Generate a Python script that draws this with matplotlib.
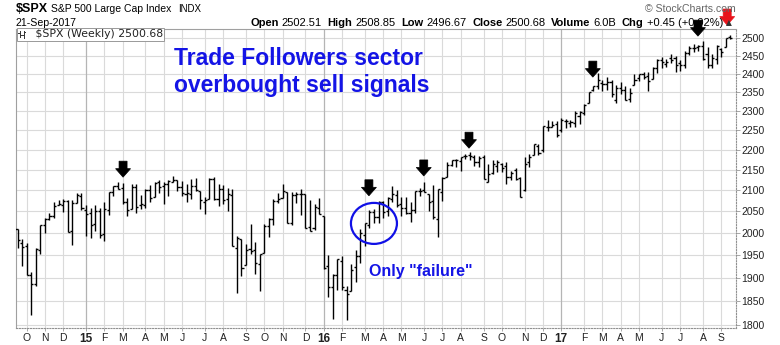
import numpy as np
import pandas as pd
import matplotlib
matplotlib.use('Agg')
import matplotlib.pyplot as plt
import matplotlib.dates as mdates
from matplotlib.patches import Polygon, Ellipse
from matplotlib.transforms import ScaledTranslation
from matplotlib.ticker import FixedLocator, FixedFormatter, NullLocator
from matplotlib.lines import Line2D

plt.rcParams['font.family'] = ['Liberation Sans', 'DejaVu Sans']

# weekly OHLC of $SPX, first bar = week of 2014-09-22
first_week = '2014-09-22'

opens_2014 = [2009.1, 1978.2, 1970.0, 1905.7, 1885.6, 1962.0, 2018.2, 2032.0, 2038.3, 2064.0,
              2065.8, 2074.8, 2005.0, 2069.5, 2087.6]
highs_2014 = [2009.1, 1985.2, 1977.8, 1912.0, 1965.3, 2018.2, 2034.3, 2046.2, 2071.5, 2075.8,
              2079.5, 2075.8, 2077.9, 2093.6, 2093.6]
lows_2014 = [1965.0, 1926.0, 1906.0, 1820.7, 1882.0, 1951.4, 2001.0, 2030.2, 2034.2, 2064.0,
             2049.6, 2002.3, 1972.6, 2069.5, 2054.0]
closes_2014 = [1982.9, 1967.9, 1906.1, 1886.8, 1964.6, 2018.1, 2031.9, 2039.8, 2063.5, 2067.6,
               2075.4, 2002.3, 2070.7, 2088.8, 2058.2]

opens_2015 = [2054.4, 2046.1, 2020.8, 2050.4, 1996.7, 2053.5, 2096.5, 2109.8, 2105.2, 2072.3,
              2055.4, 2107.0, 2064.1, 2064.9, 2102.0, 2084.1, 2119.3, 2110.2, 2115.6, 2121.3,
              2125.3, 2108.6, 2092.3, 2091.3, 2110.6, 2098.6, 2073.0, 2080.0, 2126.8, 2078.2,
              2104.5, 2080.0, 2089.7, 1965.2, 1986.7, 1927.3, 1963.1, 1960.8, 1929.2, 1954.3,
              2015.7, 2031.7, 2075.1, 2080.8, 2096.6, 2022.1, 2089.4, 2090.9, 2090.4, 2013.4,
              2010.3, 2057.8]
highs_2015 = [2064.4, 2056.9, 2064.6, 2057.6, 2072.4, 2097.0, 2110.6, 2119.6, 2117.5, 2081.4,
              2114.9, 2114.9, 2088.0, 2102.6, 2111.9, 2120.9, 2125.9, 2120.9, 2123.9, 2134.7,
              2125.3, 2121.9, 2115.0, 2126.7, 2130.0, 2098.6, 2083.0, 2129.9, 2132.8, 2114.2,
              2112.7, 2105.4, 2102.3, 1993.5, 1986.7, 1975.0, 2020.9, 1979.6, 1951.4, 2020.9,
              2034.0, 2079.7, 2094.3, 2116.5, 2096.6, 2097.1, 2095.6, 2104.3, 2090.4, 2076.7,
              2067.6, 2081.6]
lows_2015 = [1992.4, 1988.1, 2004.5, 1989.2, 1980.9, 2041.9, 2085.4, 2103.8, 2066.4, 2039.7,
             2055.4, 2045.4, 2056.0, 2056.9, 2073.3, 2084.1, 2094.0, 2067.9, 2085.7, 2119.5,
             2099.2, 2085.7, 2072.1, 2079.1, 2098.4, 2056.6, 2044.0, 2080.0, 2077.9, 2063.5,
             2067.9, 2052.1, 1970.9, 1867.0, 1903.1, 1927.3, 1953.0, 1908.8, 1871.9, 1954.3,
             1990.7, 2018.2, 2069.9, 2080.8, 2022.9, 2019.4, 2070.3, 2042.4, 2012.4, 2005.0,
             2005.9, 2043.6]
closes_2015 = [2044.8, 2019.4, 2051.8, 1995.0, 2055.5, 2097.0, 2110.3, 2104.5, 2071.3, 2053.4,
               2108.1, 2061.0, 2067.0, 2102.1, 2081.2, 2117.7, 2108.3, 2116.1, 2122.7, 2126.1,
               2107.4, 2092.8, 2094.1, 2110.0, 2101.5, 2076.8, 2076.6, 2126.6, 2079.7, 2103.8,
               2077.6, 2091.5, 1970.9, 1988.9, 1921.2, 1961.1, 1958.0, 1931.3, 1951.4, 2014.9,
               2033.1, 2075.2, 2079.4, 2099.2, 2023.0, 2089.2, 2090.1, 2091.7, 2012.4, 2005.6,
               2061.0, 2043.9]

opens_2016 = [2038.2, 1926.1, 1878.9, 1906.3, 1936.9, 1873.3, 1871.4, 1924.4, 1947.1, 1996.1,
              2019.3, 2048.6, 2037.9, 2073.2, 2050.2, 2078.8, 2089.4, 2067.2, 2057.6, 2046.5,
              2052.2, 2099.2, 2100.8, 2091.8, 2075.6, 2031.5, 2095.1, 2131.7, 2162.0, 2173.7,
              2173.1, 2183.8, 2186.1, 2181.6, 2170.2, 2181.6, 2120.9, 2143.0, 2158.5, 2164.3,
              2160.4, 2132.9, 2148.5, 2129.8, 2100.6, 2168.3, 2186.4, 2210.2, 2200.2, 2258.8,
              2259.2, 2266.2]
highs_2016 = [2038.2, 1950.3, 1908.9, 1940.2, 1947.2, 1881.6, 1930.7, 1962.1, 2009.1, 2022.4,
              2052.4, 2056.6, 2075.1, 2074.0, 2083.1, 2111.1, 2099.9, 2084.9, 2084.9, 2073.0,
              2099.3, 2105.3, 2120.6, 2091.8, 2113.3, 2103.0, 2131.7, 2169.1, 2175.6, 2177.1,
              2182.9, 2188.5, 2193.8, 2187.9, 2184.9, 2187.9, 2163.3, 2175.3, 2175.3, 2165.9,
              2169.6, 2147.0, 2154.8, 2133.3, 2182.3, 2189.9, 2213.4, 2214.1, 2259.5, 2277.5,
              2273.0, 2273.8]
lows_2016 = [1918.5, 1857.8, 1812.3, 1872.7, 1872.7, 1810.1, 1871.4, 1891.0, 1931.8, 1969.3,
             2012.1, 2022.5, 2022.6, 2033.8, 2039.7, 2073.0, 2060.2, 2039.5, 2043.1, 2025.9,
             2047.3, 2085.4, 2096.1, 2050.4, 2032.1, 1991.7, 2074.0, 2131.7, 2159.0, 2157.6,
             2147.6, 2177.1, 2175.0, 2160.4, 2157.1, 2127.8, 2119.1, 2139.1, 2145.0, 2144.9,
             2114.7, 2124.4, 2125.9, 2083.8, 2097.6, 2156.1, 2186.4, 2187.1, 2195.0, 2248.4,
             2257.1, 2233.6]
closes_2016 = [1922.0, 1880.3, 1906.9, 1940.2, 1880.1, 1864.8, 1917.8, 1948.1, 2000.0, 2022.2,
               2049.6, 2035.9, 2072.8, 2047.6, 2080.7, 2091.6, 2065.3, 2057.1, 2046.6, 2052.3,
               2099.1, 2099.1, 2096.1, 2071.2, 2037.4, 2103.0, 2129.9, 2161.7, 2175.0, 2173.6,
               2182.9, 2184.1, 2183.9, 2169.0, 2180.0, 2127.8, 2139.2, 2164.7, 2168.3, 2153.7,
               2133.0, 2141.2, 2126.4, 2085.2, 2164.5, 2181.9, 2213.4, 2192.0, 2259.5, 2258.1,
               2263.8, 2238.8]

opens_2017 = [2251.6, 2273.6, 2269.1, 2267.8, 2286.0, 2294.3, 2321.7, 2354.9, 2366.1, 2375.2,
              2371.6, 2378.2, 2329.1, 2362.3, 2357.2, 2332.6, 2370.3, 2388.5, 2399.4, 2393.0,
              2387.2, 2415.6, 2437.8, 2425.9, 2442.6, 2443.3, 2431.4, 2424.5, 2459.1, 2473.5,
              2475.0, 2477.1, 2454.0, 2425.5, 2442.0, 2470.4, 2474.5, 2502.5]
highs_2017 = [2282.1, 2279.3, 2276.1, 2300.9, 2299.0, 2319.2, 2351.3, 2367.8, 2401.0, 2382.4,
              2390.0, 2382.0, 2370.4, 2378.4, 2366.4, 2361.4, 2398.2, 2399.3, 2403.9, 2405.8,
              2418.7, 2440.2, 2446.2, 2441.0, 2453.8, 2450.4, 2439.2, 2463.5, 2477.6, 2484.0,
              2480.4, 2490.9, 2474.9, 2454.8, 2480.4, 2471.0, 2500.2, 2508.9]
lows_2017 = [2245.1, 2254.3, 2258.8, 2257.0, 2267.2, 2288.5, 2321.4, 2352.9, 2358.9, 2354.5,
             2357.2, 2336.9, 2322.3, 2344.5, 2328.9, 2323.0, 2370.3, 2380.1, 2385.5, 2353.0,
             2387.2, 2403.6, 2415.7, 2418.0, 2428.7, 2405.7, 2407.7, 2415.6, 2453.7, 2459.9,
             2462.9, 2437.8, 2417.4, 2417.4, 2428.2, 2446.6, 2474.5, 2496.7]
closes_2017 = [2277.0, 2274.6, 2271.3, 2294.7, 2297.4, 2316.1, 2351.2, 2367.3, 2383.1, 2372.6,
               2378.3, 2344.0, 2362.7, 2355.5, 2329.0, 2348.7, 2384.2, 2399.3, 2390.9, 2381.7,
               2415.8, 2439.1, 2431.8, 2433.2, 2438.3, 2423.4, 2425.2, 2459.3, 2472.5, 2472.1,
               2476.8, 2441.3, 2425.6, 2443.1, 2476.6, 2461.4, 2500.2, 2500.7]

# sell-signal arrows: (week number from first bar, price of arrow tip)
arrow_weeks = [23.1, 76.9, 88.9, 98.8, 125.9, 148.9]
arrow_prices = [2132, 2087, 2135, 2204, 2391, 2506]
red_arrow_week = 155.3
red_arrow_price = 2538
circle_week = 78.0
circle_price = 2022

y_ticks = list(range(1800, 2501, 50))
month_letters = 'JFMAMJJASOND'

opens = np.array(opens_2014 + opens_2015 + opens_2016 + opens_2017)
highs = np.array(highs_2014 + highs_2015 + highs_2016 + highs_2017)
lows = np.array(lows_2014 + lows_2015 + lows_2016 + lows_2017)
closes = np.array(closes_2014 + closes_2015 + closes_2016 + closes_2017)

dates = pd.date_range(first_week, periods=len(closes), freq='W-MON')
xs = mdates.date2num(dates)
x0 = xs[0]

W, H = 780, 345
fig = plt.figure(figsize=(W / 100, H / 100), dpi=100)
fig.patch.set_facecolor('white')

def fx(px):
    return px / W

def fy(py):
    return 1 - py / H

ax_left, ax_right, ax_top, ax_bot = 16, 736, 28.5, 328.3
ax = fig.add_axes([fx(ax_left), fy(ax_bot), (ax_right - ax_left) / W, (ax_bot - ax_top) / H])

# grid: horizontal at price ticks, vertical at first week of each month
ax.set_yscale('log')
ax.set_ylim(1793, 2528)
ax.set_xlim(x0 - 2.3, xs[-1] + 8.6)
for v in y_ticks:
    ax.axhline(v, color='#dadada', lw=0.8, zorder=0)

s = pd.Series(dates)
month_first = s.groupby([s.dt.year, s.dt.month]).first()
tick_pos, tick_lab = [], []
for d in month_first:
    if d.day > 7:
        continue  # partial month at the left edge
    xd = mdates.date2num(d)
    tick_pos.append(xd)
    if d.month == 1:
        tick_lab.append(f'{d.year % 100:02d}')
        ax.axvline(xd, color='#b5b5b5', lw=0.9, zorder=0)
    else:
        tick_lab.append(month_letters[d.month - 1])
        ax.axvline(xd, color='#dadada', lw=0.8, zorder=0)

# OHLC bars
tk = 3.2
ax.vlines(xs, lows, highs, color='black', lw=1.0, zorder=3)
ax.hlines(opens, xs - tk, xs, color='black', lw=1.0, zorder=3)
ax.hlines(closes, xs, xs + tk, color='black', lw=1.0, zorder=3)

# axes styling
ax.yaxis.tick_right()
ax.yaxis.set_major_locator(FixedLocator(y_ticks))
ax.yaxis.set_major_formatter(FixedFormatter([str(v) for v in y_ticks]))
ax.yaxis.set_minor_locator(NullLocator())
ax.tick_params(axis='y', which='major', length=3, width=0.6, color='#999999',
               labelsize=7.5, labelcolor='#222222', pad=1)
ax.xaxis.set_major_locator(FixedLocator(tick_pos))
ax.xaxis.set_major_formatter(FixedFormatter(tick_lab))
ax.tick_params(axis='x', length=2, width=0.6, color='#999999', labelsize=7.5,
               labelcolor='#222222', pad=1.5)
for lab in ax.get_xticklabels():
    if lab.get_text().isdigit():
        lab.set_fontweight('bold')
        lab.set_fontsize(8.5)
for side in ['top', 'left']:
    ax.spines[side].set_color('#a0a0a0')
    ax.spines[side].set_linewidth(0.8)
for side in ['bottom', 'right']:
    ax.spines[side].set_color('#909090')
    ax.spines[side].set_linewidth(0.8)
    ax.spines[side].set_linestyle((0, (1, 1.5)))

# legend box inside the plot
ax.text(0.0025, 0.997, '     $SPX (Weekly) 2500.68', transform=ax.transAxes, va='top', ha='left',
        fontsize=7.8, family='DejaVu Sans', color='#222222', zorder=5,
        bbox=dict(boxstyle='square,pad=0.12', fc='white', ec='#999999', lw=0.7))
for bx, (b_top, b_bot, b_o, b_c) in zip([19.5, 23.5], [(31, 37, 33, 35), (30.5, 37.5, 35, 32)]):
    fig.add_artist(Line2D([fx(bx), fx(bx)], [fy(b_top), fy(b_bot)], color='#333333', lw=0.7))
    fig.add_artist(Line2D([fx(bx - 1.5), fx(bx)], [fy(b_o), fy(b_o)], color='#333333', lw=0.7))
    fig.add_artist(Line2D([fx(bx), fx(bx + 1.5)], [fy(b_c), fy(b_c)], color='#333333', lw=0.7))

# arrows (drawn in pixel units, anchored at data points)
arrow_px = np.array([(0, 0), (7.5, 8.5), (4, 8.5), (4, 16), (-4, 16), (-4, 8.5), (-7.5, 8.5)]) / 100.0

def draw_arrow(week, price, color):
    off = ScaledTranslation(x0 + week * 7, price, ax.transData)
    ax.add_patch(Polygon(arrow_px, closed=True, transform=fig.dpi_scale_trans + off,
                         fc=color, ec=color, lw=0.5, clip_on=False, zorder=6))

for w, p in zip(arrow_weeks, arrow_prices):
    draw_arrow(w, p, 'black')
draw_arrow(red_arrow_week, red_arrow_price, '#e8141b')

# blue circle around the failed signal
off = ScaledTranslation(x0 + circle_week * 7, circle_price, ax.transData)
ax.add_patch(Ellipse((0, 0), 0.46, 0.41, transform=fig.dpi_scale_trans + off,
                     fill=False, ec='#1010e6', lw=1.6, zorder=6))

blue = '#1414e6'
fig.text(fx(174), fy(65.3), 'Trade Followers sector', color=blue, fontsize=16.5, fontweight='bold',
         va='baseline', ha='left')
fig.text(fx(174), fy(92), 'overbought sell signals', color=blue, fontsize=16.5, fontweight='bold',
         va='baseline', ha='left')
fig.text(fx(369), fy(275.7), 'Only "failure"', color=blue, fontsize=11.5, fontweight='bold',
         va='baseline', ha='left')

# header
fig.text(fx(16), fy(12.5), '$SPX', fontsize=9.0, fontweight='bold', va='baseline', ha='left')
fig.text(fx(51), fy(12.5), 'S&P 500 Large Cap Index', fontsize=7.5, va='baseline', ha='left')
fig.text(fx(178), fy(12.5), 'INDX', fontsize=7.0, va='baseline', ha='left')
fig.text(fx(16), fy(25.5), '21-Sep-2017', fontsize=7.6, va='baseline', ha='left')
fig.text(fx(736), fy(12), '\u00a9 StockCharts.com', fontsize=7.6, color='#666666', va='baseline', ha='right')

pieces = [('Open', True), ('2502.51', False), ('High', True), ('2508.85', False),
          ('Low', True), ('2496.67', False), ('Close', True), ('2500.68', False),
          ('Volume', True), ('6.0B', False), ('Chg', True), ('+0.45 (+0.02%)', False)]
fig.canvas.draw()
rend = fig.canvas.get_renderer()
texts, widths = [], []
for txt, bold in pieces:
    t = fig.text(0, fy(25.5), txt, fontsize=8.0, fontweight='bold' if bold else 'normal',
                 va='baseline', ha='left')
    texts.append(t)
    widths.append(t.get_window_extent(rend).width)
# spread the pieces between x=250 and x=723 (label gap is half the item gap)
start, end = 250, 723
n_lab = len(pieces) // 2
free = (end - start) - sum(widths)
g = free / (n_lab * 1 + (n_lab - 1) * 2)
xp = start
for i, (t, w) in enumerate(zip(texts, widths)):
    t.set_x(fx(xp))
    xp += w + (g if i % 2 == 0 else 2 * g)
fig.text(fx(726), fy(25), '\u25b2', fontsize=5.5, color='#333333', family='DejaVu Sans',
         va='baseline', ha='left')

fig.savefig('out.png', dpi=100, facecolor='white')
